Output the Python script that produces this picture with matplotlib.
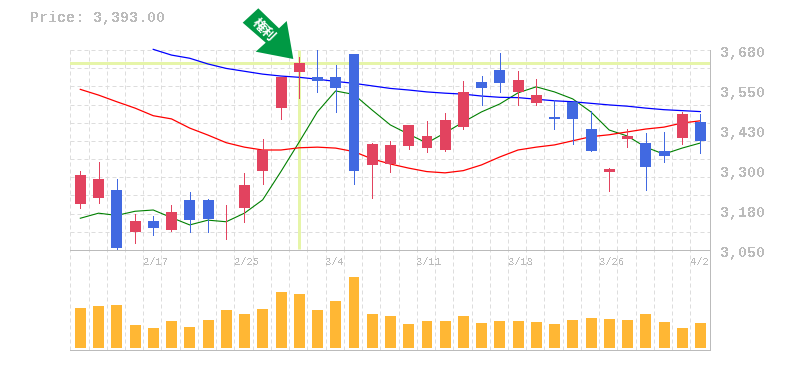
from matplotlib.patches import Polygon
from matplotlib.transforms import Affine2D
import numpy as np
import matplotlib.pyplot as plt

dates = ["2/17", "2/25", "3/4", "3/11", "3/18", "3/26", "4/2"]
date_pos = [4, 9, 14, 19, 24, 29, 34]

opens = [3195, 3214, 3239, 3107, 3141, 3113, 3208, 3208, 3115, 3182, 3299, 3497,
         3611, 3595, 3595, 3667, 3318, 3321, 3378, 3371, 3365, 3437, 3579, 3617,
         3548, 3513, 3469, 3516, 3431, 3296, 3400, 3387, 3362, 3403, 3453]
highs = [3299, 3327, 3274, 3163, 3157, 3192, 3233, 3211, 3192, 3293, 3400, 3595,
         3658, 3680, 3633, 3667, 3386, 3393, 3444, 3456, 3482, 3582, 3598, 3670,
         3614, 3589, 3522, 3516, 3488, 3308, 3431, 3419, 3422, 3485, 3478]
lows = [3182, 3198, 3053, 3072, 3097, 3110, 3107, 3107, 3085, 3138, 3258, 3463,
        3529, 3548, 3485, 3258, 3214, 3296, 3368, 3359, 3362, 3431, 3507, 3548,
        3507, 3507, 3431, 3384, 3362, 3236, 3374, 3239, 3327, 3384, 3356]
closes = [3286, 3274, 3056, 3141, 3119, 3170, 3144, 3148, 3116, 3255, 3365, 3595,
          3639, 3582, 3560, 3299, 3384, 3381, 3444, 3409, 3459, 3548, 3560, 3576,
          3585, 3538, 3463, 3463, 3362, 3305, 3409, 3311, 3346, 3478, 3393]

ma_short = [3150, 3166, 3159, 3172, 3176, 3152, 3129, 3144, 3139, 3166, 3208, 3297,
            3390, 3485, 3551, 3540, 3491, 3444, 3415, 3387, 3419, 3453, 3485, 3510,
            3545, 3564, 3548, 3526, 3485, 3428, 3409, 3374, 3352, 3371, 3387]
ma_mid = [3556, 3538, 3517, 3497, 3473, 3463, 3434, 3412, 3388, 3374, 3365, 3365,
          3372, 3374, 3371, 3360, 3337, 3321, 3308, 3297, 3293, 3300, 3318, 3343,
          3365, 3374, 3381, 3394, 3407, 3413, 3422, 3431, 3437, 3450, 3457]
ma_long = [3682, 3664, 3654, 3636, 3622, 3613, 3604, 3598, 3594, 3588, 3581, 3575,
           3567, 3559, 3554, 3548, 3544, 3541, 3535, 3531, 3530, 3525, 3520, 3517,
           3512, 3507, 3503, 3497, 3492, 3489, 3486]

volumes = [40, 42, 43, 23, 20, 27, 21, 28, 38, 34, 39, 56, 54, 38, 47, 71, 34, 32,
           24, 27, 27, 32, 25, 27, 27, 26, 24, 28, 30, 29, 28, 34, 26, 20, 25]

price_ticks = [3680, 3554, 3428, 3302, 3176, 3050]
price_labels = ["3,680", "3,550", "3,430", "3,300", "3,180", "3,050"]
mark_index = 12

W, H = 785, 370
GRAY = "#bbbbbb"
GRID = "#dddddd"
RED = "#e2435f"
BLUE = "#4169e1"
MARK = "#e6f5a8"
PX = 0.72

plt.rcParams["font.family"] = ["Liberation Mono", "DejaVu Sans Mono"]
plt.rcParams["text.antialiased"] = False

fig = plt.figure(figsize=(W / 100, H / 100), dpi=100)


def pixel_axes(x0, y0, x1, y1):
    return fig.add_axes([x0 / W, 1 - y1 / H, (x1 - x0) / W, (y1 - y0) / H])


ax_vol = pixel_axes(70, 250, 710, 350)
ax = pixel_axes(70, 50, 710, 250)
ax.patch.set_visible(False)
ax_vol.patch.set_visible(False)

n = len(closes)
x = np.arange(n)
xlim = (-0.565, 34.53)
grid_x = x - 0.548

for a in (ax, ax_vol):
    a.set_xlim(*xlim)
    a.set_xticks(grid_x)
    a.tick_params(length=0, labelbottom=False, labelleft=False)
    a.set_axisbelow(True)
    a.grid(axis="x", color=GRID, lw=PX, ls=(0, (4, 3)))
    for side in ("top", "left"):
        a.spines[side].set_visible(False)
    for side in ("right", "bottom"):
        a.spines[side].set_color(GRAY)
        a.spines[side].set_linewidth(PX)

ax.set_ylim(3050, 3680)
ax.set_yticks(np.linspace(3680, 3050, 12))
ax.grid(axis="y", color=GRID, lw=PX, ls=(0, (4, 3)))

# marked day
ax.axhline(closes[mark_index], color=MARK, lw=PX * 3, zorder=1.5)
ax.vlines(mark_index, 3053, 3680, color=MARK, lw=PX * 3, zorder=1.5)

# moving averages
ax.plot(x, ma_short, color="#008000", lw=0.8, zorder=2)
ax.plot(x, ma_mid, color="#ff0000", lw=0.9, zorder=2)
ax.plot(x[n - len(ma_long):], ma_long, color="#0000ff", lw=0.9, zorder=2, clip_on=False)

# candles
opens_a, closes_a = np.array(opens), np.array(closes)
colors = [RED if c >= o else BLUE for o, c in zip(opens, closes)]
ax.vlines(x, lows, highs, colors=colors, lw=PX, zorder=3, antialiaseds=False)
ax.bar(x + 0.01, np.abs(closes_a - opens_a), bottom=np.minimum(opens_a, closes_a),
       width=0.6, color=colors, zorder=4)

# volume
ax_vol.set_ylim(-2, 98)
ax_vol.bar(x + 0.01, volumes, width=0.6, color="#ffb734", zorder=3)

# labels
fig.text(30 / W, 1 - 18 / H, "Price: 3,393.00", color=GRAY, fontsize=10.8, va="center",
         fontweight="bold")
for p, lab in zip(price_ticks, price_labels):
    ax.annotate(lab, xy=(1, p), xycoords=("axes fraction", "data"), xytext=(10, -2.7),
                textcoords="offset pixels", color=GRAY, fontsize=10.8, va="center",
                fontweight="bold", annotation_clip=False)
for i, lab in zip(date_pos, dates):
    ax_vol.annotate(lab, xy=(i - 0.548, 1), xycoords=("data", "axes fraction"),
                    xytext=(0, -12), textcoords="offset pixels", color=GRAY, fontsize=7.6,
                    va="center", annotation_clip=False)

# arrow marker, drawn in image pixels
to_fig = Affine2D().scale(1 / W, -1 / H).translate(0, 1) + fig.transFigure
arrow = [(258.3, 8.3), (242.7, 22.7), (265.7, 42.7), (255.7, 51.7), (293.3, 59),
         (286.7, 21), (279, 28.3)]
fig.add_artist(Polygon(arrow, closed=True, facecolor="#009944", edgecolor="none", transform=to_fig))
fig.text(263.5 / W, 1 - 30 / H, "権利", color="white", fontsize=9.5, fontweight="bold",
         family=["Noto Sans CJK JP"], rotation=-45, rotation_mode="anchor", ha="center", va="center",
         antialiased=True)

fig.savefig("out.png", dpi=100)
plt.close(fig)
